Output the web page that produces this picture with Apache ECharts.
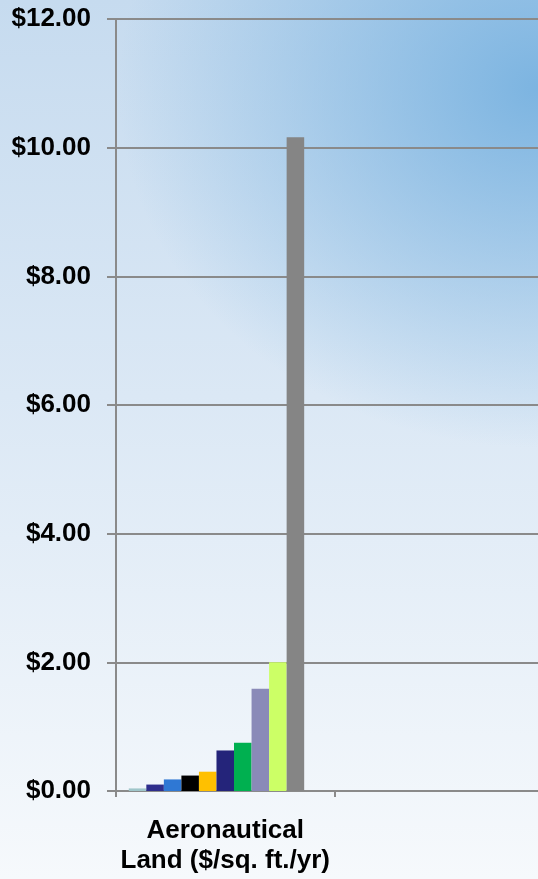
<!DOCTYPE html>
<html>
<head>
<meta charset="utf-8">
<script src="https://cdn.jsdelivr.net/npm/echarts@6/dist/echarts.min.js"></script>
<style>
  html, body { margin: 0; padding: 0; }
  body {
    width: 538px; height: 879px; overflow: hidden;
    background:
      radial-gradient(ellipse 420px 360px at 100% 10%, rgba(120,178,224,0.95) 0%, rgba(120,178,224,0.0) 100%),
      linear-gradient(to bottom, #c6dbef 0%, #dbe8f5 45%, #f6f9fc 100%);
  }
  /* wider than the window: the second category runs past the right edge */
  #chart { width: 553px; height: 879px; }
</style>
</head>
<body>
<div id="chart"></div>
<script>
// categories and values
const categories = ['Aeronautical\nLand ($/sq. ft./yr)', ''];
const seriesNames = ['A', 'B', 'C', 'D', 'E', 'F', 'G', 'H', 'I', 'J', 'K'];
const seriesValues = [0.04, 0.10, 0.18, 0.24, 0.30, 0.63, 0.75, 1.59, 2.00, 10.16, '-'];
const seriesColors = ['#9fc6ca', '#2e2e8c', '#2f78d4', '#000000', '#ffc000', '#24247a',
                      '#00b050', '#8a8ab8', '#ccff66', '#858585', '#858585'];
const yTicks = [0, 2, 4, 6, 8, 10, 12];

const chart = echarts.init(document.getElementById('chart'));

const series = seriesNames.map((name, i) => ({
  name: name,
  type: 'bar',
  data: [seriesValues[i], '-'],
  itemStyle: { color: seriesColors[i] },
  barGap: 0,
  barCategoryGap: '11.7%',
  animation: false
}));

chart.setOption({
  backgroundColor: 'transparent',
  grid: { left: 116, right: 0, top: 19, bottom: 88, containLabel: false },
  xAxis: {
    type: 'category',
    data: categories,
    axisLine: { lineStyle: { color: '#8a8a8a', width: 2 } },
    axisTick: { show: true, interval: 0, length: 6, lineStyle: { color: '#8a8a8a', width: 2 } },
    axisLabel: {
      interval: 0,
      color: '#000',
      fontFamily: 'Liberation Sans, Arial, sans-serif',
      fontWeight: 'bold',
      fontSize: 26,
      lineHeight: 30,
      margin: 25
    }
  },
  yAxis: {
    type: 'value',
    min: yTicks[0],
    max: yTicks[yTicks.length - 1],
    interval: 2,
    axisLine: { show: true, lineStyle: { color: '#8a8a8a', width: 2 } },
    axisTick: { show: true, length: 9, lineStyle: { color: '#8a8a8a', width: 2 } },
    splitLine: { lineStyle: { color: '#8a8a8a', width: 2 } },
    axisLabel: {
      color: '#000',
      fontFamily: 'Liberation Sans, Arial, sans-serif',
      fontWeight: 'bold',
      fontSize: 26,
      margin: 25,
      formatter: v => '$' + v.toFixed(2)
    }
  },
  series: series
});
</script>
</body>
</html>
